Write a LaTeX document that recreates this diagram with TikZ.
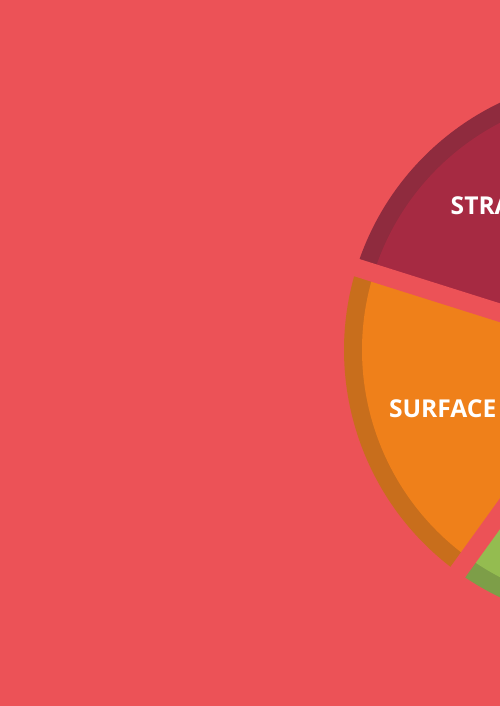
\documentclass[tikz,border=0pt]{standalone}
\usepackage{fontspec}
\newfontfamily\segfont{Open Sans}
\usetikzlibrary{calc, positioning}
\definecolor{bgcoral}{RGB}{236,82,87}
\definecolor{segwine}{RGB}{166,42,66}
\definecolor{rimwine}{RGB}{143,43,62}
\definecolor{segorange}{RGB}{239,128,26}
\definecolor{rimorange}{RGB}{200,110,28}
\definecolor{seggreen}{RGB}{148,188,80}
\definecolor{rimgreen}{RGB}{125,158,72}
\tikzset{gapline/.style={draw=bgcoral, line width=18pt}}
\tikzset{seglabel/.style={text=white, font=\segfont\bfseries\fontsize{24.6}{28}\selectfont}}

\begin{document}
\begin{tikzpicture}[x=1pt, y=1pt]
\useasboundingbox (0,0) rectangle (500,706);
\fill[bgcoral] (0,0) rectangle (500,706);
\clip (0,0) rectangle (500,706);
\coordinate (C) at (618,356);

% sectors: outer rim first, then the face
\foreach \a/\b/\face/\rim in {90.5/162.5/segwine/rimwine, 162.5/234.2/segorange/rimorange, 234.2/306/seggreen/rimgreen}{
    \fill[\rim] (C) -- ($(C)+(\a:274)$) arc[start angle=\a, end angle=\b, radius=274] -- cycle;
    \fill[\face] (C) -- ($(C)+(\a:256)$) arc[start angle=\a, end angle=\b, radius=256] -- cycle;
}
\foreach \a in {90.5, 162.5, 234.2, 306}{
    \draw[gapline] (C) -- ($(C)+(\a:320)$);
}

\node[seglabel] (strategy) at ($(C)+(126.5:180)$) {STRATEGY};
\node[seglabel] (surface) at ($(C)+(198.6:185)$) {SURFACE};
\end{tikzpicture}
\end{document}
